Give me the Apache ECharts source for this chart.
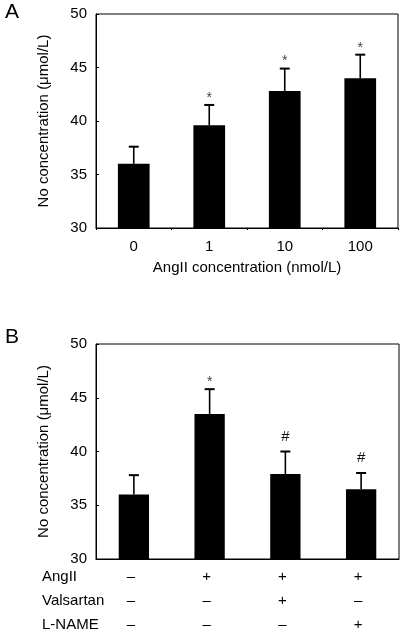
<!DOCTYPE html>
<html>
<head>
<meta charset="utf-8">
<script src="https://cdn.jsdelivr.net/npm/echarts@6/dist/echarts.min.js"></script>
<style>
html,body{margin:0;padding:0;background:#fff;}
#c{width:405px;height:641px;}
</style>
</head>
<body>
<div id="c"></div>
<script>
// ---- data ----
const categoriesA = ['0', '1', '10', '100'];
const meansA = [36.0, 39.6, 42.8, 44.0];
const sdA = [1.6, 1.9, 2.1, 2.2];
const marksA = ['', '*', '*', '*'];

const angII = ['–', '+', '+', '+'];
const valsartan = ['–', '–', '+', '–'];
const lname = ['–', '–', '–', '+'];
const rowLabelsB = ['AngII', 'Valsartan', 'L-NAME'];
const meansB = [36.0, 43.5, 37.9, 36.5];
const sdB = [1.8, 2.3, 2.1, 1.5];
const marksB = ['', '*', '#', '#'];

const yMin = 30, yMax = 50, yInterval = 5;
const yName = 'No concentration (\u03bcmol/L)';
const xNameA = 'AngII concentration (nmol/L)';

const FONT = '"Liberation Sans", Arial, sans-serif';
const FS = 15;

const chart = echarts.init(document.getElementById('c'), null, {renderer: 'canvas'});

function errData(means, sds) {
  return means.map((m, i) => [i, m + sds[i], m]);
}
const marksAll = {1: marksA, 3: marksB};

function renderErr(params, api) {
  const i = api.value(0);
  const top = api.coord([i, api.value(1)]);
  const base = api.coord([i, api.value(2)]);
  const mark = marksAll[params.seriesIndex][params.dataIndex];
  const children = [
    {type: 'line', shape: {x1: top[0], y1: base[1], x2: top[0], y2: top[1]},
     style: {stroke: '#000', lineWidth: 1.6}},
    {type: 'line', shape: {x1: top[0] - 5, y1: top[1], x2: top[0] + 5, y2: top[1]},
     style: {stroke: '#000', lineWidth: 2}}
  ];
  if (mark) {
    const star = mark === '*';
    children.push({type: 'text', style: {
      text: mark, x: top[0], y: top[1] - (star ? 7 : 15),
      align: 'center', verticalAlign: 'middle',
      font: (star ? '14px ' : '15px ') + FONT,
      fill: star ? '#444' : '#111'
    }});
  }
  return {type: 'group', children: children};
}

const yAxisCommon = {
  type: 'value', min: yMin, max: yMax, interval: yInterval,
  name: yName, nameLocation: 'middle', nameGap: 45,
  nameTextStyle: {fontFamily: FONT, fontSize: FS, color: '#000'},
  axisLine: {show: true, lineStyle: {color: '#000', width: 1}},
  axisTick: {show: true, inside: true, length: 3, lineStyle: {color: '#000'}},
  axisLabel: {fontFamily: FONT, fontSize: FS, color: '#000', margin: 9},
  splitLine: {show: false}
};

chart.setOption({
  animation: false,
  backgroundColor: '#fff',
  grid: [
    {left: 96, top: 14, width: 302, height: 214, show: true, borderColor: '#000', borderWidth: 1},
    {left: 96, top: 344, width: 303, height: 215, show: true, borderColor: '#000', borderWidth: 1}
  ],
  xAxis: [
    {type: 'category', gridIndex: 0, data: categoriesA,
     name: xNameA, nameLocation: 'middle', nameGap: 32,
     nameTextStyle: {fontFamily: FONT, fontSize: FS, color: '#000'},
     axisLine: {lineStyle: {color: '#000', width: 1}},
     axisTick: {show: true, length: 2, lineStyle: {color: '#000'}},
     axisLabel: {fontFamily: FONT, fontSize: FS, color: '#000', margin: 11}},
    {type: 'category', gridIndex: 1, data: angII.map((_, i) => i),
     axisLine: {lineStyle: {color: '#000', width: 1}},
     axisTick: {show: false},
     axisLabel: {fontFamily: FONT, fontSize: FS, color: '#000', margin: 6, lineHeight: 24,
       padding: [0, 6, 0, 0],
       formatter: (v, i) => [angII[i], valsartan[i], lname[i]].join('\n')}}
  ],
  yAxis: [
    Object.assign({gridIndex: 0}, yAxisCommon),
    Object.assign({gridIndex: 1}, yAxisCommon)
  ],
  series: [
    {type: 'bar', xAxisIndex: 0, yAxisIndex: 0, data: meansA, barWidth: '42%',
     itemStyle: {color: '#000'}},
    {type: 'custom', xAxisIndex: 0, yAxisIndex: 0, renderItem: renderErr,
     data: errData(meansA, sdA), z: 3},
    {type: 'bar', xAxisIndex: 1, yAxisIndex: 1, data: meansB, barWidth: '40%',
     itemStyle: {color: '#000'}},
    {type: 'custom', xAxisIndex: 1, yAxisIndex: 1, renderItem: renderErr,
     data: errData(meansB, sdB), z: 3}
  ],
  graphic: [
    {type: 'text', left: 5, top: 2, style: {text: 'A', font: '21px ' + FONT, fill: '#000'}},
    {type: 'text', left: 5, top: 327, style: {text: 'B', font: '21px ' + FONT, fill: '#000'}}
  ].concat(rowLabelsB.map((t, k) => ({
    type: 'text', x: 42, y: 577 + k * 24,
    style: {text: t, font: FS + 'px ' + FONT, fill: '#000', verticalAlign: 'middle'}
  })))
});
</script>
</body>
</html>
